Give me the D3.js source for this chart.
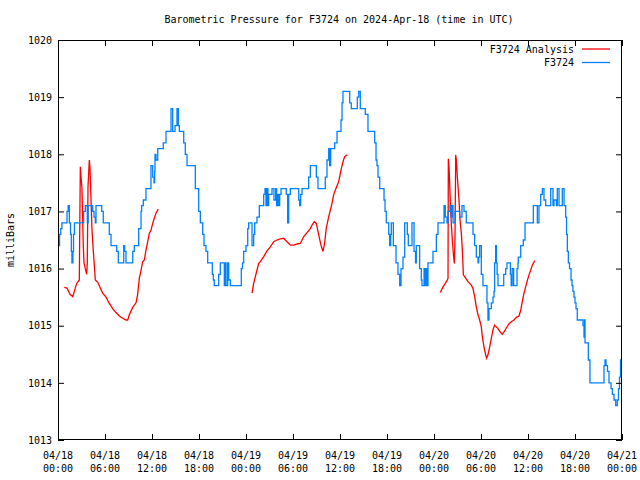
<!DOCTYPE html>
<html><head><meta charset="utf-8">
<script src="https://cdn.jsdelivr.net/npm/d3@7/dist/d3.min.js"></script>
<style>body{margin:0;background:#fff}svg text{font-family:"DejaVu Sans Mono",monospace;font-size:10px;fill:#000}</style>
</head><body><svg id="c" width="640" height="480"></svg>
<script>
const titleText = "Barometric Pressure for F3724 on 2024-Apr-18 (time in UTC)";
const yLabel = "milliBars";
const seriesNames = ["F3724 Analysis", "F3724"];
const xTickHours = [0,6,12,18,24,30,36,42,48,54,60,66,72];
const xTickDates = ["04/18","04/18","04/18","04/18","04/19","04/19","04/19","04/19","04/20","04/20","04/20","04/20","04/21"];
const xTickTimes = ["00:00","06:00","12:00","18:00","00:00","06:00","12:00","18:00","00:00","06:00","12:00","18:00","00:00"];
const yTicks = [1013,1014,1015,1016,1017,1018,1019,1020];

// F3724 station observations (hours since 04/18 00:00 UTC, step series)
const stationHours = [0,0.2,0.35,0.5,1.15,1.3,1.45,1.6,1.7,1.78,1.9,1.98,2.1,3.28,3.49,3.74,3.85,4.43,4.6,4.76,4.85,5.58,5.78,6.55,6.77,7.49,7.7,8.39,8.51,8.68,9.54,9.74,10.3,10.6,10.68,10.89,11.23,11.87,12.09,12.26,12.34,12.38,12.51,12.73,13.44,13.79,14.43,14.64,14.94,15.19,15.36,15.49,16.05,16.25,16.47,17.53,17.96,18.17,18.47,18.64,18.89,19.11,19.7,19.83,19.95,20.51,20.72,21.23,21.36,21.45,21.66,21.79,22.0,23.4,23.55,23.7,24.0,24.22,24.34,24.77,24.98,25.11,25.4,25.7,26.26,26.43,26.55,26.68,26.8,26.9,27.32,27.57,27.79,27.91,28.04,28.17,28.3,28.47,29.14,29.32,29.45,29.66,30.73,30.85,30.98,31.15,32.0,32.21,32.98,33.19,34.12,34.34,34.56,34.68,34.81,35.32,35.62,36.13,36.26,36.38,37.24,37.44,38.21,38.39,38.59,39.23,39.57,40.43,40.6,40.72,40.85,41.07,41.62,41.75,41.91,42.22,42.34,42.47,42.55,42.81,43.15,43.4,43.62,43.79,44.04,44.26,44.59,44.72,45.19,45.45,45.64,45.74,46.17,46.38,46.47,46.73,46.85,47.02,47.15,47.23,47.87,48.3,48.51,49.28,49.44,49.66,49.79,50.04,50.21,50.3,50.43,50.68,51.28,51.57,51.83,52.12,52.98,53.19,53.4,53.62,53.7,53.83,54.04,54.25,54.76,54.89,55.02,55.32,55.53,55.66,55.74,55.87,55.96,56.06,56.17,56.9,57.15,57.32,57.75,57.85,57.98,58.17,58.6,58.72,58.76,59.07,59.4,59.62,60.68,61.19,61.4,61.62,61.83,62.04,62.26,62.9,63.19,63.32,63.62,63.74,63.96,64.38,64.6,64.81,64.92,65.02,65.15,65.3,65.49,65.62,65.74,65.87,66.0,66.13,66.29,67.02,67.15,67.21,67.28,67.7,67.91,69.7,69.83,69.96,70.15,70.34,70.6,70.77,70.98,71.2,71.4,71.55,71.68,71.81,72];
const stationValues = [1016.4,1016.6,1016.7,1016.8,1017.0,1017.1,1016.8,1016.6,1016.3,1016.1,1016.3,1016.6,1016.8,1017.0,1017.1,1016.8,1017.1,1017.0,1016.9,1016.8,1017.1,1017.0,1016.8,1016.6,1016.4,1016.3,1016.1,1016.4,1016.3,1016.1,1016.3,1016.4,1016.7,1017.0,1017.1,1017.2,1017.4,1017.8,1017.6,1017.5,1017.7,1018.0,1017.9,1018.1,1018.2,1018.4,1018.8,1018.4,1018.5,1018.8,1018.5,1018.4,1018.2,1018.0,1017.8,1017.4,1017.0,1016.8,1016.6,1016.4,1016.3,1016.1,1015.9,1015.8,1015.7,1015.9,1016.1,1015.7,1016.1,1015.7,1016.1,1015.8,1015.7,1016.0,1016.1,1016.3,1016.4,1016.7,1016.8,1016.4,1016.6,1016.8,1016.9,1017.1,1017.3,1017.4,1017.1,1017.4,1017.1,1017.3,1017.4,1017.2,1017.4,1017.1,1017.3,1017.1,1017.3,1017.4,1017.3,1016.8,1017.3,1017.4,1017.2,1017.1,1017.3,1017.4,1017.6,1017.8,1017.6,1017.4,1017.6,1017.9,1018.1,1017.8,1018.1,1018.2,1018.4,1018.6,1018.9,1019.1,1018.9,1018.8,1019.0,1019.1,1018.8,1018.7,1018.4,1018.2,1017.9,1017.8,1017.6,1017.4,1017.2,1017.0,1016.8,1016.6,1016.4,1016.6,1016.8,1016.4,1016.1,1015.9,1015.7,1016.0,1016.2,1016.8,1016.6,1016.4,1016.8,1016.3,1016.1,1016.4,1016.0,1015.8,1015.7,1016.0,1015.7,1016.0,1015.7,1016.1,1016.3,1016.6,1016.8,1017.1,1016.9,1016.8,1017.0,1017.1,1016.9,1017.1,1016.8,1017.0,1016.9,1017.1,1017.0,1016.8,1016.6,1016.4,1016.2,1016.1,1016.2,1016.4,1015.9,1015.7,1015.4,1015.1,1015.3,1015.4,1015.5,1015.6,1016.1,1016.4,1016.1,1015.9,1015.7,1015.9,1016.0,1016.1,1015.9,1015.7,1016.0,1015.7,1016.0,1016.1,1016.2,1016.4,1016.5,1016.8,1017.1,1016.8,1017.1,1017.3,1017.4,1017.2,1017.1,1017.4,1017.1,1017.2,1017.1,1017.4,1017.1,1017.4,1017.1,1016.9,1016.6,1016.3,1016.1,1016.0,1015.8,1015.7,1015.6,1015.5,1015.4,1015.3,1015.1,1015.0,1014.8,1015.1,1014.7,1014.4,1014.0,1014.3,1014.4,1014.3,1014.2,1014.0,1013.9,1013.8,1013.7,1013.6,1013.7,1013.9,1014.1,1014.4,1014.4];

// F3724 Analysis (null = gap between runs)
const analysisHours = [0.8,1.15,1.53,1.88,2.08,2.39,2.72,2.85,2.94,3.06,3.23,3.32,3.66,3.74,3.83,4.0,4.09,4.17,4.34,4.51,4.68,4.76,5.07,5.27,5.7,6.13,6.55,6.98,7.4,7.83,8.26,8.68,8.9,9.1,9.54,9.96,10.17,10.38,10.6,10.81,11.02,11.23,11.45,11.66,11.87,12.09,12.29,12.51,12.8,
  18,
  24.77,24.98,25.19,25.4,25.62,25.83,26.26,26.68,27.1,27.54,27.96,28.38,28.81,29.23,29.66,30.09,30.51,30.93,31.37,31.79,32.21,32.43,32.72,32.98,33.28,33.57,33.83,34.04,34.25,34.56,34.76,34.98,35.19,35.4,35.62,35.83,36.17,36.38,36.6,36.93,
  42,
  48.8,49.15,49.44,49.7,49.79,49.83,49.92,50.0,50.13,50.21,50.34,50.47,50.6,50.68,50.77,50.85,50.98,51.19,51.32,51.49,51.62,51.75,51.92,52.34,52.76,52.98,53.19,53.4,53.62,53.83,54.04,54.17,54.38,54.6,54.72,54.89,55.11,55.36,55.53,55.74,55.96,56.21,56.51,56.72,56.94,57.23,57.57,57.87,58.21,58.56,58.85,59.07,59.27,59.49,59.7,59.91,60.13,60.34,60.55,60.86];
const analysisValues = [1015.67,1015.66,1015.55,1015.51,1015.6,1015.74,1015.8,1017.78,1017.6,1017.4,1016.4,1016.1,1015.9,1016.1,1017.43,1017.9,1017.75,1017.4,1016.67,1016.3,1015.98,1015.8,1015.76,1015.7,1015.57,1015.5,1015.39,1015.3,1015.23,1015.17,1015.13,1015.1,1015.1,1015.19,1015.32,1015.4,1015.55,1015.83,1015.97,1016.12,1016.15,1016.32,1016.47,1016.62,1016.67,1016.79,1016.88,1016.97,1017.04,
  null,
  1015.57,1015.74,1015.86,1015.97,1016.09,1016.12,1016.21,1016.31,1016.38,1016.47,1016.5,1016.52,1016.53,1016.47,1016.41,1016.41,1016.43,1016.44,1016.56,1016.63,1016.7,1016.76,1016.82,1016.79,1016.59,1016.41,1016.3,1016.45,1016.71,1016.91,1017.02,1017.14,1017.29,1017.37,1017.45,1017.52,1017.75,1017.87,1017.96,1017.99,
  null,
  1015.58,1015.68,1015.74,1015.8,1015.83,1017.92,1017.77,1017.49,1017.0,1016.79,1016.5,1016.26,1016.09,1016.5,1017.99,1017.9,1017.6,1017.2,1016.85,1016.62,1016.32,1015.89,1015.86,1015.77,1015.71,1015.65,1015.51,1015.33,1015.19,1015.1,1014.98,1014.81,1014.63,1014.49,1014.43,1014.49,1014.63,1014.81,1014.93,1015.01,1014.98,1014.94,1014.88,1014.85,1014.89,1014.96,1015.03,1015.07,1015.1,1015.15,1015.17,1015.27,1015.42,1015.57,1015.68,1015.79,1015.89,1015.97,1016.06,1016.14];

const colors = ["#ff0000", "#0080ff"];

const L = 58, R = 622, T = 40, B = 440;
const svg = d3.select("#c");
svg.append("rect").attr("width",640).attr("height",480).attr("fill","#fff");
const x = d3.scaleLinear().domain([0,72]).range([L,R]);
const y = d3.scaleLinear().domain([1013,1020]).range([B,T]);

const station = stationHours.map((h,i)=>({h, v: stationValues[i]}));
const analysis = analysisHours.map((h,i)=>({h, v: analysisValues[i]}));

svg.append("path").datum(analysis)
  .attr("fill","none").attr("stroke",colors[0]).attr("stroke-width",1.3)
  .attr("d", d3.line().defined(d=>d.v!==null).x(d=>x(d.h)).y(d=>y(d.v)));

svg.append("path").datum(station)
  .attr("fill","none").attr("stroke",colors[1]).attr("stroke-width",1.3)
  .attr("d", d3.line().curve(d3.curveStepAfter).x(d=>x(d.h)).y(d=>y(d.v)));

// axes (ticks inward, gnuplot style)
const ax = svg.append("g").attr("transform",`translate(0,${B})`)
  .call(d3.axisBottom(x).tickValues(xTickHours).tickSize(-6).tickFormat(""));
const axT = svg.append("g").attr("transform",`translate(0,${T})`)
  .call(d3.axisTop(x).tickValues(xTickHours).tickSize(-6).tickFormat(""));
const ay = svg.append("g").attr("transform",`translate(${L},0)`)
  .call(d3.axisLeft(y).tickValues(yTicks).tickSize(-6).tickPadding(6).tickFormat(d3.format("d")));
const ayR = svg.append("g").attr("transform",`translate(${R},0)`)
  .call(d3.axisRight(y).tickValues(yTicks).tickSize(-6).tickFormat(""));
[ax,axT,ay,ayR].forEach(g=>{g.select(".domain").remove();g.selectAll("line").attr("stroke","#000");});
ay.selectAll("text").attr("font-family","DejaVu Sans Mono").attr("font-size",10).attr("fill","#000").attr("x",-6);

// two-line x tick labels
xTickHours.forEach((h,i)=>{
  const t = svg.append("text").attr("x",x(h)).attr("y",459).attr("text-anchor","middle");
  t.append("tspan").attr("x",x(h)).attr("dy",0).text(xTickDates[i]);
  t.append("tspan").attr("x",x(h)).attr("dy",12.5).text(xTickTimes[i]);
});

// frame
svg.append("rect").attr("x",L+0.5).attr("y",T+0.5).attr("width",R-L-1).attr("height",B-T-1)
  .attr("fill","none").attr("stroke","#000").attr("stroke-width",1);

// title
svg.append("text").attr("x",339).attr("y",23).attr("text-anchor","middle").text(titleText);
// y label
svg.append("text").attr("transform","translate(14,240) rotate(-90)").attr("text-anchor","middle").text(yLabel);

// legend
seriesNames.forEach((n,i)=>{
  const yy = 49 + i*13.5;
  svg.append("text").attr("x",574).attr("y",yy+3.5).attr("text-anchor","end").text(n);
  svg.append("line").attr("x1",582).attr("x2",610).attr("y1",yy).attr("y2",yy)
    .attr("stroke",colors[i]).attr("stroke-width",1.3);
});
</script></body></html>
